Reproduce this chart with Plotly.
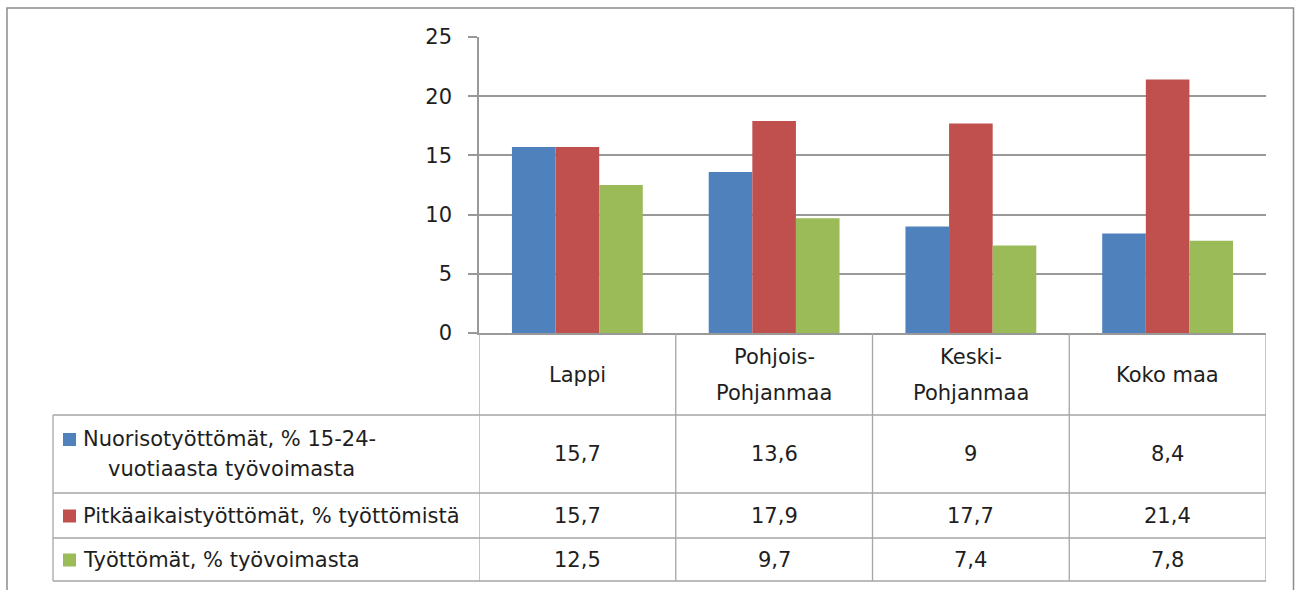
import plotly.graph_objects as go

categories = ["Lappi", "Pohjois-Pohjanmaa", "Keski-Pohjanmaa", "Koko maa"]
header_lines = [["Lappi"], ["Pohjois-", "Pohjanmaa"], ["Keski-", "Pohjanmaa"], ["Koko maa"]]
series_names = ["Nuorisotyöttömät, % 15-24-vuotiaasta työvoimasta",
                "Pitkäaikaistyöttömät, % työttömistä",
                "Työttömät, % työvoimasta"]
legend_lines = [["Nuorisotyöttömät, % 15-24-", "vuotiaasta työvoimasta"],
                ["Pitkäaikaistyöttömät, % työttömistä"],
                ["Työttömät, % työvoimasta"]]
nuoriso = [15.7, 13.6, 9, 8.4]
pitka = [15.7, 17.9, 17.7, 21.4]
tyottomat = [12.5, 9.7, 7.4, 7.8]
values = [nuoriso, pitka, tyottomat]
value_labels = [["15,7", "13,6", "9", "8,4"],
                ["15,7", "17,9", "17,7", "21,4"],
                ["12,5", "9,7", "7,4", "7,8"]]
colors = ["#4F81BD", "#C0504D", "#9BBB59"]
y_ticks = [0, 5, 10, 15, 20, 25]

W, H = 1295, 590
L, R, T, B = 479, 1266, 37, 333
PW, PH = R - L, B - T

def px(x):
    return (x - L) / PW

def py(y):
    return (B - y) / PH

FONT = "DejaVu Sans"
TXT = "#1e1e1e"
GRID = "#999999"
TLINE = "#a6a6a6"
FS = 21

fig = go.Figure()
xs = list(range(len(categories)))
for name, vals, col in zip(series_names, values, colors):
    fig.add_trace(go.Bar(x=xs, y=vals, name=name, marker=dict(color=col, line=dict(width=0)),
                         showlegend=False, hoverinfo="y"))

shapes = []
# outer border
shapes.append(dict(type="rect", xref="paper", yref="paper", x0=px(7), x1=px(1293.5), y0=py(620), y1=py(8),
                   line=dict(color="#8c8c8c", width=1.5), layer="below"))
# table vertical lines for columns
for i in range(len(categories) + 1):
    shapes.append(dict(type="line", xref="x", yref="paper", x0=i - 0.5, x1=i - 0.5, y0=py(333), y1=py(581),
                       line=dict(color=TLINE, width=1.3)))
# left border of legend column
shapes.append(dict(type="line", xref="paper", yref="paper", x0=px(53), x1=px(53), y0=py(415), y1=py(581),
                   line=dict(color=TLINE, width=1.3)))
# horizontal row lines
row_bounds = [415, 493, 538, 581]
for yb in row_bounds:
    shapes.append(dict(type="line", xref="paper", yref="paper", x0=px(53), x1=px(1266), y0=py(yb), y1=py(yb),
                       line=dict(color=TLINE, width=1.3)))

annotations = []
# header labels
header_center = 375
for i, lines in enumerate(header_lines):
    n = len(lines)
    for j, t in enumerate(lines):
        yc = header_center + (j - (n - 1) / 2) * 36
        annotations.append(dict(x=i, y=py(yc), xref="x", yref="paper", text=t, showarrow=False,
                                xanchor="center", yanchor="middle", font=dict(family=FONT, size=FS, color=TXT)))
# rows
row_centers = [(415 + 493) / 2, (493 + 538) / 2, (538 + 581) / 2]
for r, (lines, col) in enumerate(zip(legend_lines, colors)):
    yc = row_centers[r]
    n = len(lines)
    for j, t in enumerate(lines):
        yl = yc + (j - (n - 1) / 2) * 30
        xl = 81 if j == 0 else 106
        annotations.append(dict(x=px(xl), y=py(yl), xref="paper", yref="paper", text=t, showarrow=False,
                                xanchor="left", yanchor="middle", font=dict(family=FONT, size=FS, color=TXT)))
        if j == 0:
            shapes.append(dict(type="rect", xref="paper", yref="paper", x0=px(63), x1=px(76),
                               y0=py(yl + 7), y1=py(yl - 6), line=dict(width=0), fillcolor=col))
    for i, lab in enumerate(value_labels[r]):
        annotations.append(dict(x=i, y=py(yc), xref="x", yref="paper", text=lab, showarrow=False,
                                xanchor="center", yanchor="middle", font=dict(family=FONT, size=FS, color=TXT)))

fig.update_layout(
    width=W, height=H,
    margin=dict(l=L, r=W - R, t=T, b=H - B, pad=0),
    paper_bgcolor="white", plot_bgcolor="white",
    barmode="group", bargap=0.335, bargroupgap=0,
    shapes=shapes, annotations=annotations,
    xaxis=dict(range=[-0.5, 3.5], showticklabels=False, showgrid=False, zeroline=False,
               showline=True, linecolor=GRID, linewidth=1.5, ticks="", fixedrange=True),
    yaxis=dict(range=[0, 25], tickvals=y_ticks, showgrid=True, gridcolor=GRID, gridwidth=1.5,
               zeroline=False, showline=True, linecolor=GRID, linewidth=1.5,
               ticks="outside", ticklen=9, tickcolor=GRID, tickwidth=1.5,
               ticklabelstandoff=12,
               tickfont=dict(family=FONT, size=21, color=TXT), fixedrange=True),
    font=dict(family=FONT, size=FS, color=TXT),
)

fig.write_html("out.html", config={"displayModeBar": False},
               post_script="document.body.style.margin='0';document.body.style.overflow='hidden';")
